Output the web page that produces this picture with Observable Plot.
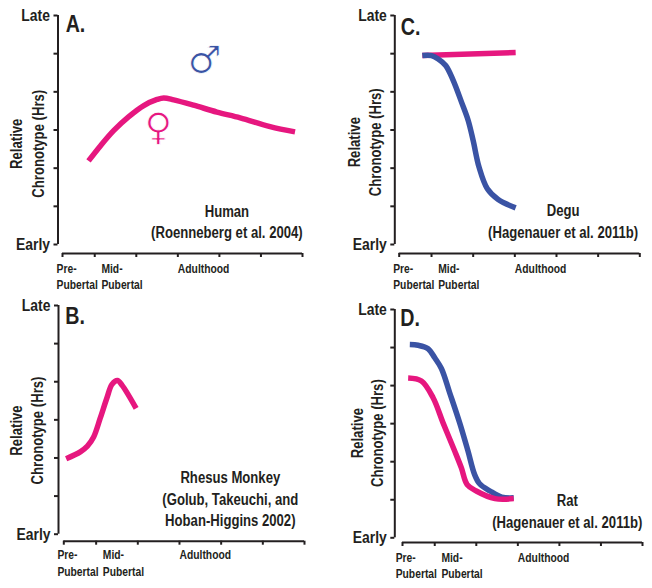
<!DOCTYPE html>
<html><head><meta charset="utf-8">
<script src="https://cdn.jsdelivr.net/npm/d3@7"></script>
<script src="https://cdn.jsdelivr.net/npm/@observablehq/plot@0.6"></script>
<style>
html,body{margin:0;padding:0;background:#fff}
#chart{position:relative;width:652px;height:588px;overflow:hidden}
#chart svg{position:absolute;overflow:visible;background:transparent}
</style></head><body><div id="chart"></div>
<script>
const PINK = "#e6177f", BLUE = "#3a53a4", INK = "#231f20";
const FONT = "'Liberation Sans',sans-serif";
const xTicks = [0.224, 1, 2, 3, 4, 5, 6];
const yTicks = [0, 1, 2, 3, 4, 5, 6];
const yTickNames = {0: "Early", 6: "Late"};

const humanFemaleX = [0.85,1.14,1.46,1.82,2.18,2.50,2.66,2.90,3.38,3.94,4.50,5.22,5.82];
const humanFemaleY = [2.19,2.59,2.99,3.35,3.64,3.80,3.84,3.79,3.65,3.47,3.32,3.09,2.95];
const monkeyFemaleX = [0.28,0.62,0.79,0.94,1.10,1.26,1.38,1.51,1.62,1.96];
const monkeyFemaleY = [1.98,2.16,2.31,2.55,3.05,3.58,3.93,4.03,3.91,3.30];
const deguFemaleX = [0.78,3.02];
const deguFemaleY = [4.95,5.03];
const deguMaleX = [0.78,1.0,1.16,1.34,1.52,1.72,1.88,2.0,2.14,2.34,2.6,3.02];
const deguMaleY = [4.95,4.95,4.86,4.69,4.30,3.73,3.25,2.72,2.03,1.46,1.18,0.96];
const ratMaleX = [0.40,0.60,0.84,1.0,1.16,1.36,1.60,1.80,1.96,2.08,2.33,2.61,2.9];
const ratMaleY = [5.08,5.06,4.97,4.73,4.45,3.81,3.02,2.28,1.66,1.42,1.23,1.07,1.05];
const ratFemaleX = [0.36,0.68,0.96,1.2,1.48,1.64,1.78,2.0,2.45,2.9];
const ratFemaleY = [4.20,4.12,3.68,3.02,2.28,1.84,1.40,1.23,1.03,1.03];

const zip = (xs, ys) => xs.map((x, i) => ({x, y: ys[i]}));

const panels = [
  {letter:"A.", left:0, top:0, axisX:57.5, xr:[62,302], yr:[244,15], base:253,
   letterAt:[0.30,5.76], stageX:[0.08,1.16,3.0], stageY:[-0.64,-1.07],
   titleX:[-0.87,-0.35], titleY:2.64,
   caption:["Human","(Roenneberg et al. 2004)"], capX:4.18, capY:[0.86,0.31],
   lines:[[humanFemaleX,humanFemaleY,PINK]],
   symbols:[{x:3.64,y:4.82,t:"\u2642",c:BLUE},{x:2.53,y:3.05,t:"\u2640",c:PINK}]},
  {letter:"C.", left:326, top:0, axisX:68.3, xr:[72.7,313.3], yr:[244,15], base:253,
   letterAt:[0.26,5.68], stageX:[0.08,1.16,3.0], stageY:[-0.64,-1.07],
   titleX:[-0.84,-0.33], titleY:2.68,
   caption:["Degu","(Hagenauer et al. 2011b)"], capX:4.16, capY:[0.87,0.31],
   lines:[[deguFemaleX,deguFemaleY,PINK],[deguMaleX,deguMaleY,BLUE]], symbols:[]},
  {letter:"B.", left:0, top:294, axisX:58, xr:[63.3,304], yr:[239.7,11], base:246.7,
   letterAt:[0.26,5.72], stageX:[0.07,1.16,3.0], stageY:[-0.56,-0.99],
   titleX:[-0.90,-0.40], titleY:2.72,
   caption:["Rhesus Monkey","(Golub, Takeuchi, and","Hoban-Higgins 2002)"], capX:4.22, capY:[1.48,0.91,0.34],
   lines:[[monkeyFemaleX,monkeyFemaleY,PINK]], symbols:[]},
  {letter:"D.", left:326, top:294, axisX:68.3, xr:[76,316], yr:[243.3,15], base:248,
   letterAt:[0.17,5.76], stageX:[0.06,1.16,3.0], stageY:[-0.53,-0.95],
   titleX:[-0.86,-0.37], titleY:2.75,
   caption:["Rat","(Hagenauer et al. 2011b)"], capX:4.19, capY:[0.96,0.39],
   lines:[[ratMaleX,ratMaleY,BLUE],[ratFemaleX,ratFemaleY,PINK]], symbols:[]}
];

const chart = document.getElementById("chart");
for (const p of panels) {
  const xUnit = (p.xr[1] - p.xr[0]) / (6 - 0.224);
  const yUnit = (p.yr[0] - p.yr[1]) / 6;
  const axisLineX = 0.224 - (p.xr[0] - p.axisX) / xUnit;
  const axisLineY = -(p.base - p.yr[0]) / yUnit;
  const label = (t, x, y, size, extra = {}) =>
    Plot.text([t], {x: () => x, y: () => y, text: d => d, fontSize: size, fontWeight: 700,
      fontFamily: FONT, fill: INK, ...extra});
  const plot = Plot.plot({
    width: 326, height: 294,
    marginLeft: p.axisX, marginBottom: 294 - p.base, marginTop: p.yr[1], marginRight: 326 - p.xr[1],
    x: {domain: [0.224, 6], range: p.xr},
    y: {domain: [0, 6], range: p.yr},
    style: {fontFamily: FONT, background: "transparent", overflow: "visible"},
    marks: [
      Plot.ruleX([axisLineX], {y1: 0, y2: 6, stroke: INK, strokeWidth: 2}),
      Plot.ruleY([axisLineY], {x1: 0.224, x2: 6, stroke: INK, strokeWidth: 2}),
      Plot.axisY(yTicks.map(d => d), {anchor: "left", tickSize: 4, tickPadding: 4, stroke: INK, strokeWidth: 2,
        tickFormat: d => yTickNames[d] ?? "", fontSize: 17, fontWeight: 700, fill: INK, label: null}),
      Plot.axisX(xTicks, {anchor: "bottom", tickSize: 4, stroke: INK, strokeWidth: 2,
        tickFormat: () => "", label: null}),
      ...p.lines.map(([xs, ys, c]) => Plot.line(zip(xs, ys), {x: "x", y: "y", stroke: c, strokeWidth: 5.5,
        curve: "catmull-rom", strokeLinejoin: "round", strokeLinecap: "butt"})),
      ...p.symbols.map(s => Plot.text([s.t], {x: () => s.x, y: () => s.y, text: d => d, fontSize: 38,
        fontFamily: "'DejaVu Sans'", fill: s.c, stroke: "white", strokeWidth: 0.9, paintOrder: "normal"})),
      label(p.letter, ...p.letterAt, 24, {textAnchor: "start"}),
      label("Relative", p.titleX[0], p.titleY, 16, {rotate: -90}),
      label("Chronotype (Hrs)", p.titleX[1], p.titleY, 16, {rotate: -90}),
      label("Pre-", p.stageX[0], p.stageY[0], 12, {textAnchor: "start"}),
      label("Pubertal", p.stageX[0], p.stageY[1], 12, {textAnchor: "start"}),
      label("Mid-", p.stageX[1], p.stageY[0], 12, {textAnchor: "start"}),
      label("Pubertal", p.stageX[1], p.stageY[1], 12, {textAnchor: "start"}),
      label("Adulthood", p.stageX[2], p.stageY[0], 12, {textAnchor: "start"}),
      ...p.caption.map((t, i) => label(t, p.capX, p.capY[i], 16))
    ]
  });
  plot.style.left = p.left + "px";
  plot.style.top = p.top + "px";
  chart.appendChild(plot);
  // The reference's face is a bold condensed one: narrow the real text to the same widths.
  plot.querySelectorAll("text").forEach(el => {
    const t = el.textContent;
    if (!t || t === "\u2642" || t === "\u2640") return;
    const k = /^(Pre-|Mid-|Pubertal|Adulthood)$/.test(t) ? 0.86 : 0.82;
    const tr = el.getAttribute("transform") || "";
    el.setAttribute("transform", (tr + ` scale(${k},1)`).trim());
    const ax = el.getAttribute("x");
    if (ax != null) { el.setAttribute("x", ax / k); }
  });
}
</script></body></html>
